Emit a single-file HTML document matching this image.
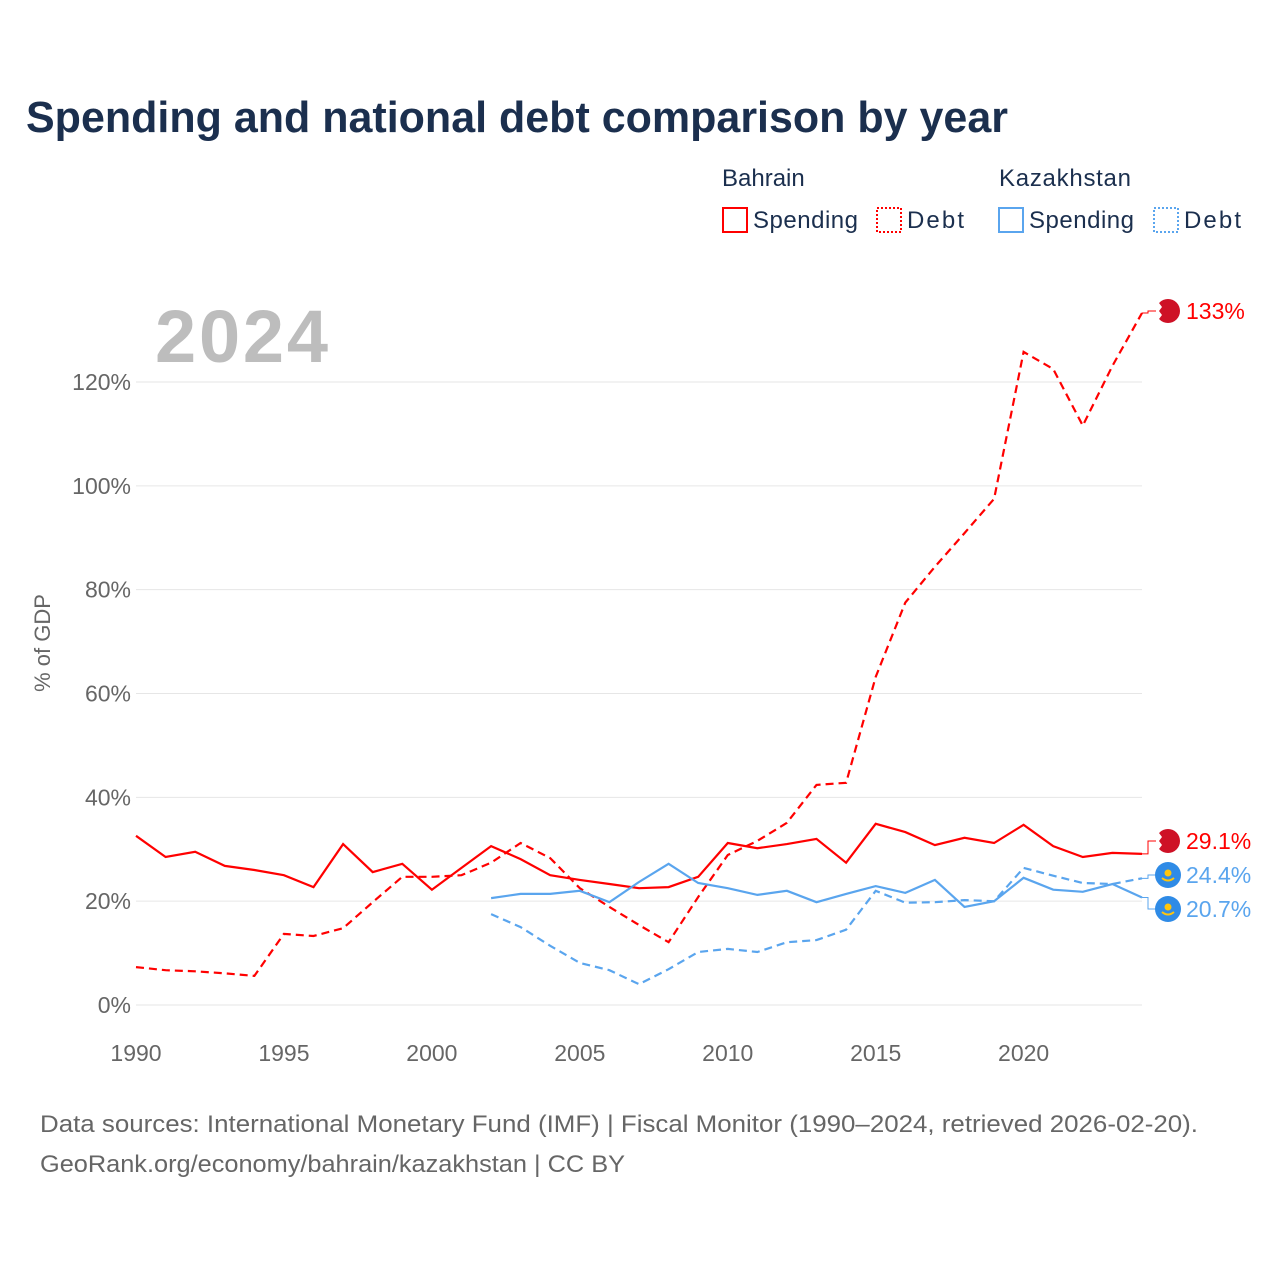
<!DOCTYPE html>
<html><head><meta charset="utf-8"><style>
body{margin:0;background:#fff;font-family:"Liberation Sans",sans-serif}
svg text{font-family:"Liberation Sans",sans-serif}
</style></head><body>
<svg id="chart" width="1280" height="1280" viewBox="0 0 1280 1280">
<text x="26" y="132" font-size="44" font-weight="bold" fill="#1b2f4e" textLength="982" lengthAdjust="spacingAndGlyphs">Spending and national debt comparison by year</text>
<g>
<text x="722" y="186" font-size="24" fill="#1b2f4e">Bahrain</text>
<text x="999" y="186" font-size="24" fill="#1b2f4e" textLength="132">Kazakhstan</text>
<g><rect x="723" y="208" width="24" height="24" fill="none" stroke="#f00" stroke-width="2"/><text x="753" y="228" font-size="24" fill="#1b2f4e" textLength="105">Spending</text></g>
<g><rect x="877" y="208" width="24" height="24" fill="none" stroke="#f00" stroke-width="2" stroke-dasharray="2,2"/><text x="907" y="228" font-size="24" fill="#1b2f4e" textLength="57">Debt</text></g>
<g><rect x="999" y="208" width="24" height="24" fill="none" stroke="#5aa5ee" stroke-width="2"/><text x="1029" y="228" font-size="24" fill="#1b2f4e" textLength="105">Spending</text></g>
<g><rect x="1154" y="208" width="24" height="24" fill="none" stroke="#5aa5ee" stroke-width="2" stroke-dasharray="2,2"/><text x="1184" y="228" font-size="24" fill="#1b2f4e" textLength="57">Debt</text></g>
</g>
<text x="155" y="362" font-size="74" font-weight="bold" fill="#bdbdbd" textLength="173">2024</text>
<text transform="translate(50,643) rotate(-90)" text-anchor="middle" font-size="22" fill="#666">% of GDP</text>
<g id="grid"></g><g id="marks"></g><g id="ends"></g>
<text x="40" y="1132" font-size="24" fill="#666" textLength="1158" lengthAdjust="spacingAndGlyphs">Data sources: International Monetary Fund (IMF) | Fiscal Monitor (1990–2024, retrieved 2026-02-20).</text>
<text x="40" y="1172" font-size="24" fill="#666" textLength="585" lengthAdjust="spacingAndGlyphs">GeoRank.org/economy/bahrain/kazakhstan | CC BY</text>
</svg>
<script>
const yearsBH=[1990,1991,1992,1993,1994,1995,1996,1997,1998,1999,2000,2001,2002,2003,2004,2005,2006,2007,2008,2009,2010,2011,2012,2013,2014,2015,2016,2017,2018,2019,2020,2021,2022,2023,2024];
const bhSpending=[32.6,28.5,29.5,26.8,26.0,25.0,22.7,31.0,25.6,27.2,22.2,26.4,30.6,28.1,25.0,24.1,23.3,22.5,22.7,24.7,31.2,30.2,31.0,32.0,27.4,34.9,33.3,30.8,32.2,31.2,34.7,30.6,28.5,29.3,29.1];
const bhDebt=[7.3,6.7,6.5,6.1,5.6,13.7,13.3,14.8,19.8,24.7,24.7,25.0,27.4,31.2,28.3,22.5,18.9,15.4,12.1,20.8,28.9,31.6,35.1,42.4,42.8,63.2,77.5,84.4,90.9,97.5,125.8,122.5,111.6,123.1,133.3];
const yearsKZ=[2002,2003,2004,2005,2006,2007,2008,2009,2010,2011,2012,2013,2014,2015,2016,2017,2018,2019,2020,2021,2022,2023,2024];
const kzSpending=[20.6,21.4,21.4,22.0,19.8,23.7,27.2,23.5,22.5,21.2,22.0,19.8,21.4,22.9,21.6,24.1,18.9,20.0,24.5,22.2,21.8,23.3,20.7];
const kzDebt=[17.5,15.0,11.4,8.1,6.7,4.0,6.9,10.2,10.8,10.2,12.1,12.5,14.5,22.0,19.7,19.8,20.2,20.0,26.4,24.9,23.5,23.3,24.4];
const yTicks=[0,20,40,60,80,100,120];
const xTicks=[1990,1995,2000,2005,2010,2015,2020];
const NS='http://www.w3.org/2000/svg';
const X=y=>136+(y-1990)*(1142-136)/34;
const Y=v=>1005-v*(1005-382)/120;
function mk(tag,attrs,parent){const e=document.createElementNS(NS,tag);for(const k in attrs)e.setAttribute(k,attrs[k]);parent.appendChild(e);return e;}
const grid=document.getElementById('grid'),marks=document.getElementById('marks'),ends=document.getElementById('ends');
yTicks.forEach(t=>{
 const l=mk('line',{x1:136,x2:1142,y1:Y(t),y2:Y(t),stroke:'#e6e6e6','stroke-width':1},grid);
 
 
 const tx=mk('text',{x:131,y:Y(t)+8,'text-anchor':'end','font-size':23,fill:'#666'},grid);
 tx.textContent=t+'%';
 
 
});
xTicks.forEach(t=>{
 const tx=mk('text',{x:X(t),y:1061,'text-anchor':'middle','font-size':23,fill:'#666'},grid);
 tx.textContent=t;
 
 
});
function line(years,vals,color,dash,name){
 const d=years.map((y,i)=>(i?'L':'M')+X(y).toFixed(1)+','+Y(vals[i]).toFixed(1)).join('');
 const p=mk('path',{d:d,fill:'none',stroke:color,'stroke-width':2.2,'stroke-dasharray':dash},marks);
 
 
}
line(yearsBH,bhSpending,'#f00','none','line-bahrain-spending');
line(yearsBH,bhDebt,'#f00','8,5','line-bahrain-debt');
line(yearsKZ,kzSpending,'#5aa5ee','none','line-kazakhstan-spending');
line(yearsKZ,kzDebt,'#5aa5ee','8,5','line-kazakhstan-debt');
function endLabel(v,labelY,color,flag,text,name){
 const x0=X(2024),yv=Y(v);
 const c=mk('path',{d:`M${x0},${yv}H${x0+6}V${labelY}H${x0+14}`,fill:'none',stroke:color,'stroke-width':1},ends);
 
 
 const g=mk('g',{},ends);
 
 
 const cx=x0+26;
 if(flag==='bh'){
  mk('circle',{cx:cx,cy:labelY,r:12,fill:'#ce1126'},g);
  mk('path',{d:`M${cx-12},${labelY-12}h6l-3,4l3,4l-3,4l3,4l-3,4l3,4h-6z`,fill:'#fff'},g);
 } else {
  mk('circle',{cx:cx,cy:labelY,r:13,fill:'#2f8be6'},g);
  mk('circle',{cx:cx,cy:labelY-2,r:3.5,fill:'#fec50c'},g);
  mk('path',{d:`M${cx-6},${labelY+3}q6,5 12,0`,fill:'none',stroke:'#fec50c','stroke-width':2},g);
 }
 const t=mk('text',{x:x0+44,y:labelY+8,'font-size':23,fill:color},ends);
 t.textContent=text;
 
 
}
endLabel(bhDebt[bhDebt.length-1],311,'#f00','bh','133%','end-label-bahrain-debt');
endLabel(bhSpending[bhSpending.length-1],841,'#f00','bh','29.1%','end-label-bahrain-spending');
endLabel(kzDebt[kzDebt.length-1],875,'#5aa5ee','kz','24.4%','end-label-kazakhstan-debt');
endLabel(kzSpending[kzSpending.length-1],909,'#5aa5ee','kz','20.7%','end-label-kazakhstan-spending');
</script>
</body></html>
